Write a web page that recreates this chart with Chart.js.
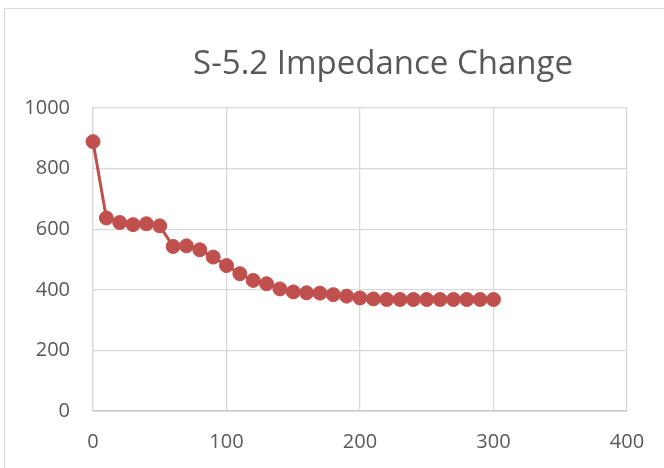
<!DOCTYPE html>
<html>
<head>
<meta charset="utf-8">
<script src="https://cdn.jsdelivr.net/npm/chart.js@4/dist/chart.umd.min.js"></script>
<style>
    html, body { margin: 0; padding: 0; background: #fff; overflow: hidden; }
    #frame {
        position: absolute; left: 4px; top: 8px; width: 720px; height: 520px;
        border: 1.5px solid #d9d9d9;
    }
    #wrap { position: absolute; left: 0; top: 0; width: 664px; height: 468px; }
</style>
</head>
<body>
<div id="frame"></div>
<div id="wrap"><canvas id="impedanceChart"></canvas></div>
<script>
// time values (x) and impedance readings (y)
var timeValues = [0, 10, 20, 30, 40, 50, 60, 70, 80, 90, 100, 110, 120, 130, 140, 150,
    160, 170, 180, 190, 200, 210, 220, 230, 240, 250, 260, 270, 280, 290, 300];
var impedanceValues = [889, 637, 622, 615, 618, 611, 543, 545, 532, 508, 480, 453, 431, 420, 403, 393,
    390, 389, 384, 379, 373, 370, 368, 368, 368, 368, 368, 368, 368, 368, 368];
var xTicks = [0, 100, 200, 300, 400];
var yTicks = [0, 200, 400, 600, 800, 1000];
var chartTitle = 'S-5.2 Impedance Change';

var points = timeValues.map(function(t, i) {
    return { x: t, y: impedanceValues[i] };
});

// title is drawn off-centre like the Excel original
var titlePlugin = {
    id: 'excelTitle',
    afterDraw: function(chart) {
        var ctx = chart.ctx;
        ctx.save();
        ctx.font = '33px "Open Sans"';
        ctx.fillStyle = '#595959';
        ctx.textAlign = 'center';
        ctx.textBaseline = 'alphabetic';
        ctx.fillText(chartTitle, 383, 74);
        ctx.restore();
    }
};

function plainLabel(value) {
    return String(value);
}

var ctx = document.getElementById('impedanceChart').getContext('2d');
var myChart = new Chart(ctx, {
    type: 'scatter',
    data: {
        datasets: [{
            label: chartTitle,
            data: points,
            showLine: true,
            clip: false,
            borderColor: '#c0504d',
            backgroundColor: '#c0504d',
            borderWidth: 3,
            pointRadius: 7,
            pointBorderWidth: 1,
            pointHoverRadius: 7
        }]
    },
    plugins: [titlePlugin],
    options: {
        responsive: true,
        maintainAspectRatio: false,
        animation: false,
        layout: {
            padding: { left: 0, right: 37, top: 108, bottom: 0 }
        },
        plugins: {
            legend: { display: false },
            title: { display: false },
            tooltip: { enabled: false }
        },
        scales: {
            x: {
                type: 'linear',
                min: 0,
                max: 400,
                afterBuildTicks: function(scale) {
                    scale.ticks = xTicks.map(function(v) { return { value: v }; });
                },
                afterFit: function(scale) { scale.height = 468 - 411; },
                grid: { color: '#d9d9d9', lineWidth: 1.3, drawTicks: false },
                border: { color: '#c8c8c8', width: 1.5 },
                ticks: {
                    color: '#595959',
                    padding: 19,
                    font: { family: 'Open Sans', size: 20 },
                    callback: plainLabel
                }
            },
            y: {
                type: 'linear',
                min: 0,
                max: 1000,
                afterBuildTicks: function(scale) {
                    scale.ticks = yTicks.map(function(v) { return { value: v }; });
                },
                afterFit: function(scale) { scale.width = 93; },
                grid: { color: '#d9d9d9', lineWidth: 1.3, drawTicks: false },
                border: { color: '#d9d9d9', width: 1.3 },
                ticks: {
                    color: '#595959',
                    padding: 23,
                    font: { family: 'Open Sans', size: 20 },
                    callback: plainLabel
                }
            }
        }
    }
});
</script>
</body>
</html>
